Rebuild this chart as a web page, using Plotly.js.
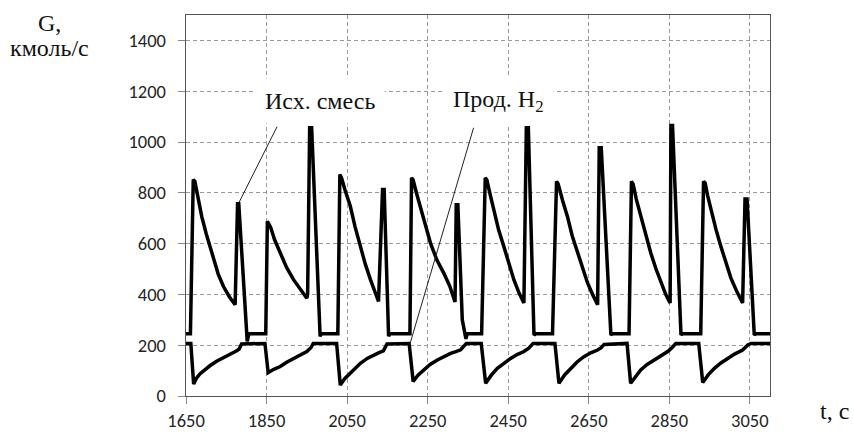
<!DOCTYPE html>
<html>
<head>
<meta charset="utf-8">
<script src="https://cdn.plot.ly/plotly-3.0.1.min.js"></script>
<style>html,body{margin:0;padding:0;background:#fff;}#chart{width:854px;height:439px;}</style>
</head>
<body>
<div id="chart"></div>
<script>
// Feed mixture ("Исх. смесь") flow, kmol/s
const feedT = [1650,1661,1668,1672,1680,1689,1700,1718,1730,1743,1758,1772,1776,1778,1781,1802,1806,
  1843,1848,1852,1860,1870,1884,1900,1917,1935,1950,1952,1957,1962,1983,1986,
  2023,2027,2032,2036,2045,2058,2070,2083,2095,2108,2128,2138,2142,2153,2156,
  2202,2206,2210,2214,2222,2232,2245,2257,2273,2290,2305,2318,2321,2325,2336,2345,2348,
  2380,2384,2393,2397,2405,2414,2426,2439,2451,2464,2477,2489,2495,2500,2514,2518,
  2556,2560,2570,2574,2585,2597,2609,2622,2635,2647,2660,2672,2676,2681,2705,2708,
  2745,2750,2756,2760,2768,2779,2791,2804,2817,2829,2841,2852,2854,2858,2879,2882,
  2923,2928,2935,2939,2945,2953,2966,2978,2990,3003,3018,3032,3038,3043,3061,3064,3100];
const feedG = [245,245,852,845,780,707,640,537,480,431,390,359,740,757,757,215,245,
  245,245,688,665,615,563,505,458,418,385,400,1056,1056,235,245,
  245,245,872,860,810,747,665,589,520,458,372,813,813,235,245,
  245,245,859,850,800,747,670,602,535,484,432,370,753,753,300,225,245,
  245,245,859,850,795,734,655,589,520,458,405,366,1056,1056,240,245,
  245,245,845,835,770,707,630,563,500,445,398,359,977,977,240,245,
  245,245,845,835,775,707,630,563,500,445,400,366,1065,1065,240,245,
  245,245,845,838,790,734,655,589,525,464,410,366,776,776,240,245,245];

// Hydrogen product ("Прод. H2") flow, kmol/s
const prodT = [1650,1662,1669,1676,1685,1697,1710,1726,1743,1760,1776,1782,1788,
  1846,1854,1868,1884,1900,1917,1934,1950,1960,1966,
  2024,2033,2044,2058,2070,2083,2100,2116,2128,2140,2149,
  2204,2214,2226,2240,2256,2274,2290,2307,2320,2332,2346,
  2383,2394,2408,2423,2440,2456,2472,2489,2501,2512,
  2566,2576,2590,2605,2621,2638,2655,2672,2681,2688,
  2745,2754,2766,2779,2795,2812,2829,2846,2858,2866,
  2923,2933,2947,2962,2978,2995,3013,3032,3045,3053,3100];
const prodG = [207,207,47,70,88,105,120,137,150,165,178,185,205,
  207,92,105,116,133,148,163,175,190,207,
  207,43,68,89,110,129,148,162,170,178,205,
  207,57,82,103,124,142,156,168,175,182,207,
  207,50,82,109,130,148,163,175,188,207,
  207,50,83,109,134,155,170,181,190,203,
  207,50,78,103,124,142,160,175,192,207,
  207,53,84,109,130,148,166,181,201,207,207];

const xTicks = [1650,1850,2050,2250,2450,2650,2850,3050];
const yTicks = [0,200,400,600,800,1000,1200,1400];
const feedLabel = "Исх. смесь";
const prodLabel = "Прод. H<sub>2</sub>";

const tickFont = {family: "Carlito, Lato, 'Liberation Sans', sans-serif", size: 18.5, color: "#262626"};
const serif = {family: "'Liberation Serif', 'DejaVu Serif', serif", size: 24, color: "#111"};

const traces = [
  {x: feedT, y: feedG, type: "scatter", mode: "lines", name: "Исх. смесь",
   line: {color: "#000", width: 3.5, shape: "linear"}, hoverinfo: "skip"},
  {x: prodT, y: prodG, type: "scatter", mode: "lines", name: "Прод. H2",
   line: {color: "#000", width: 3.5, shape: "linear"}, hoverinfo: "skip"}
];

const layout = {
  width: 854, height: 439,
  margin: {l: 186, r: 84, t: 15, b: 43, pad: 0},
  paper_bgcolor: "#fff", plot_bgcolor: "#fff",
  showlegend: false,
  xaxis: {
    range: [1650, 3100], tickvals: xTicks, ticktext: xTicks.map(String),
    showgrid: true, gridcolor: "#9a9a9a", gridwidth: 1, griddash: "4px,3px",
    showline: true, linecolor: "#555", linewidth: 1.3, mirror: true,
    ticks: "outside", ticklen: 7, tickcolor: "#888", tickwidth: 1,
    tickfont: tickFont, zeroline: false, fixedrange: true
  },
  yaxis: {
    range: [0, 1500], tickvals: yTicks, ticktext: yTicks.map(String),
    showgrid: true, gridcolor: "#9a9a9a", gridwidth: 1, griddash: "4px,3px",
    showline: true, linecolor: "#555", linewidth: 1.3, mirror: true,
    ticks: "outside", ticklen: 7, tickcolor: "#888", tickwidth: 1,
    ticklabelstandoff: 8,
    tickfont: tickFont, zeroline: false, fixedrange: true
  },
  shapes: [
    {type: "line", xref: "x", yref: "y", x0: 1782, y0: 763, x1: 1876, y1: 1060,
     line: {color: "#222", width: 1}},
    {type: "line", xref: "x", yref: "y", x0: 2207, y0: 210, x1: 2364, y1: 1056,
     line: {color: "#222", width: 1}}
  ],
  annotations: [
    {xref: "x", yref: "y", x: 1983, y: 1160, text: feedLabel, showarrow: false,
     font: serif, bgcolor: "#fff", borderpad: 9},
    {xref: "x", yref: "y", x: 2426, y: 1160, text: prodLabel, showarrow: false,
     font: serif, bgcolor: "#fff", borderpad: 9},
    {xref: "paper", yref: "paper", x: -0.233, y: 0.98, xanchor: "center", yanchor: "middle",
     text: "G,", showarrow: false, font: serif},
    {xref: "paper", yref: "paper", x: -0.233, y: 0.913, xanchor: "center", yanchor: "middle",
     text: "кмоль/с", showarrow: false, font: serif},
    {xref: "paper", yref: "paper", x: 1.11, y: -0.04, xanchor: "center", yanchor: "middle",
     text: "t, с", showarrow: false, font: serif}
  ]
};

Plotly.newPlot("chart", traces, layout, {staticPlot: true, displayModeBar: false});
</script>
</body>
</html>
